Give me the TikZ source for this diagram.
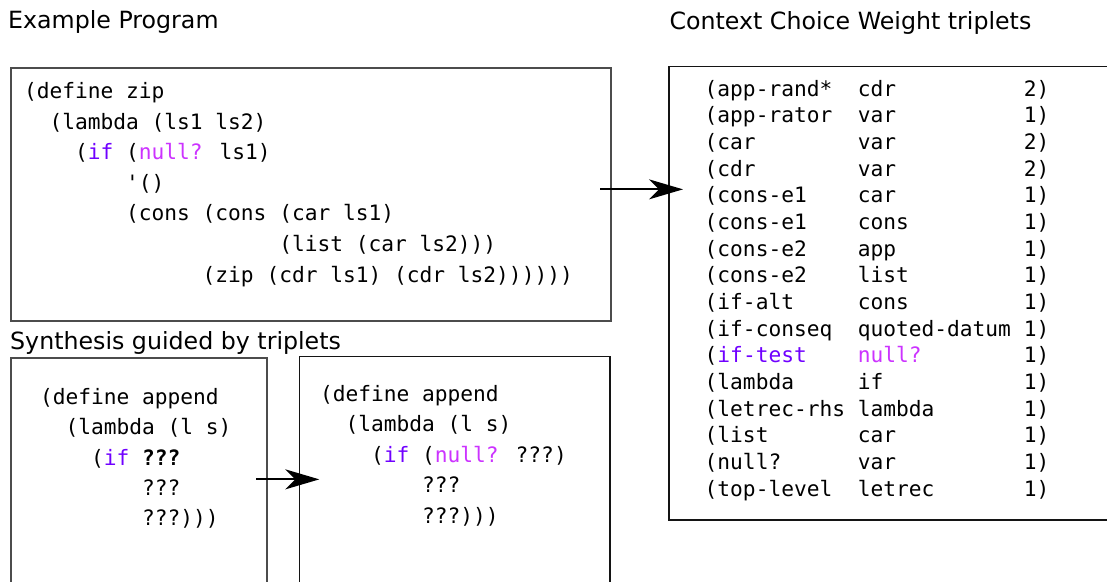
\documentclass[tikz,border=0pt]{standalone}
\usepackage{fontspec}
\setmainfont{DejaVu Sans}
\newfontfamily\codefont{DejaVu Sans Mono}
\usetikzlibrary{arrows.meta,calc}
\definecolor{kwif}{RGB}{112,0,255}
\definecolor{kwnull}{RGB}{204,51,255}
% width of one monospaced character, set inside the code font
\newlength\cwid
% one row of the triplet table: context, choice, weight in fixed columns
\newcommand\trip[3]{\makebox[12\cwid][l]{#1}\makebox[13\cwid][l]{#2}#3}
\newcommand\kif[1]{\textcolor{kwif}{#1}}
\newcommand\knull[1]{\textcolor{kwnull}{#1}}

\begin{document}
\begin{tikzpicture}[x=1pt,y=-1pt,
  title/.style={font=\fontsize{23.7}{28}\selectfont, inner sep=0, anchor=base west},
  code/.style={font=\codefont\fontsize{21.2}{26}\selectfont\setlength\cwid{0.60205em},
               inner sep=0, anchor=base west},
  panel/.style={draw=black!70, line width=1.6pt, inner sep=0, outer sep=0,
                anchor=north west, fill=white},
  darkpanel/.style={panel, draw=black!92, line width=1.3pt},
  arr/.style={line width=2pt, -{Stealth[length=34pt,width=20pt,inset=10pt]}}
]
\path[use as bounding box] (0,0) rectangle (1107,581);
\fill[white] (0,0) rectangle (1107,581);
\clip (0,0) rectangle (1107,581);

% titles
\node[title] (tprog) at (8,28.5) {Example Program};
\node[title] (ttrip) at (669.4,29.5) {Context Choice Weight triplets};
\node[title] (tsyn)  at (10,349.3) {Synthesis guided by triplets};

% panels
\node[panel, minimum width=600pt, minimum height=252.7pt] (prog) at (11,68) {};
\node[darkpanel, minimum width=460pt, minimum height=453.3pt] (trip) at (669,66.7) {};
\node[panel, minimum width=256pt, minimum height=243.3pt] (syn1) at (10.7,357.7) {};
\node[darkpanel, minimum width=310.7pt, minimum height=244.3pt] (syn2) at (299.3,356.7) {};

% example program
\foreach \t [count=\i] in {
  {(define zip},
  {~~(lambda (ls1 ls2)},
  {~~~~(\kif{if} (\knull{null?} ls1)},
  {~~~~~~~~'()},
  {~~~~~~~~(cons (cons (car ls1)},
  {~~~~~~~~~~~~~~~~~~~~(list (car ls2)))},
  {~~~~~~~~~~~~~~(zip (cdr ls1) (cdr ls2))))))}}
  \node[code] (p\i) at (23.8,{98.5+(\i-1)*30.6}) {\t};

% triplet table
\foreach \t [count=\i] in {
  {\trip{(app-rand*}{cdr}{2)}},
  {\trip{(app-rator}{var}{1)}},
  {\trip{(car}{var}{2)}},
  {\trip{(cdr}{var}{2)}},
  {\trip{(cons-e1}{car}{1)}},
  {\trip{(cons-e1}{cons}{1)}},
  {\trip{(cons-e2}{app}{1)}},
  {\trip{(cons-e2}{list}{1)}},
  {\trip{(if-alt}{cons}{1)}},
  {\trip{(if-conseq}{quoted-datum}{1)}},
  {\trip{(\kif{if-test}}{\knull{null?}}{1)}},
  {\trip{(lambda}{if}{1)}},
  {\trip{(letrec-rhs}{lambda}{1)}},
  {\trip{(list}{car}{1)}},
  {\trip{(null?}{var}{1)}},
  {\trip{(top-level}{letrec}{1)}}}
  \node[code] (r\i) at (704.5,{96+(\i-1)*26.67}) {\t};

% partial program before guidance
\foreach \t [count=\i] in {
  {(define append},
  {~~(lambda (l s)},
  {~~~~(\kif{if} \textbf{???}},
  {~~~~~~~~???},
  {~~~~~~~~???)))}}
  \node[code] (a\i) at (39.8,{404.3+(\i-1)*30.4}) {\t};

% partial program after guidance
\foreach \t [count=\i] in {
  {(define append},
  {~~(lambda (l s)},
  {~~~~(\kif{if} (\knull{null?} ???)},
  {~~~~~~~~???},
  {~~~~~~~~???)))}}
  \node[code] (b\i) at (319.8,{401+(\i-1)*30.6}) {\t};

% connectors
\coordinate (a1s) at ($(prog.east)+(-11,-5)$);
\coordinate (a1e) at ($(trip.west |- a1s)+(14,0)$);
\draw[arr] (a1s) -- (a1e);
\coordinate (a2s) at ($(syn1.east)+(-10.7,0)$);
\coordinate (a2e) at ($(syn2.west |- a2s)+(20,0)$);
\draw[arr] (a2s) -- (a2e);
\end{tikzpicture}
\end{document}
